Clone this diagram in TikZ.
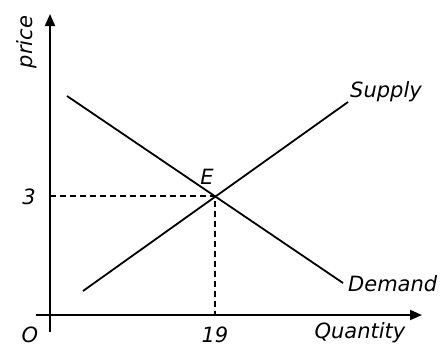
\documentclass[tikz,border=0pt]{standalone}
\usepackage{fontspec}
\setmainfont{DejaVu Sans}
\usetikzlibrary{arrows.meta}
\begin{document}
\begin{tikzpicture}[x=1pt,y=-1pt,
  lbl/.style={font=\fontsize{21}{24}\selectfont\itshape, inner sep=0pt},
  curve/.style={line width=1.8pt},
  axis/.style={line width=1.8pt, -{Triangle[length=12pt,width=10pt]}},
  guide/.style={line width=1.5pt, dash pattern=on 6pt off 4pt}]
\useasboundingbox (0,0) rectangle (443,346);
\coordinate (yb) at (50,332);
\coordinate (yt) at (50,14);
\coordinate (xl) at (36,315);
\coordinate (xr) at (422,315);
\draw[axis] (yb) -- (yt);
\draw[axis] (xl) -- (xr);
\coordinate (s1) at (83,291);
\coordinate (s2) at (348,102);
\coordinate (d1) at (67,96);
\coordinate (d2) at (343,283);
\draw[curve] (s1) -- (s2);
\draw[curve] (d1) -- (d2);
\coordinate (E) at (215,196);
\coordinate (ey) at (50,196);
\coordinate (ex) at (215,315);
\draw[guide] (ey) -- (E) -- (ex);
\node[lbl, rotate=90] (price) at (27,42) {price};
\node[lbl] (three) at (29,197) {3};
\node[lbl, anchor=base] (O) at (30,342) {O};
\node[lbl, anchor=base] (n19) at (215,342) {19};
\node[lbl, anchor=base] (q) at (360,338) {Quantity};
\node[lbl, anchor=west] (sup) at (350,92) {Supply};
\node[lbl, anchor=west] (dem) at (348,284) {Demand};
\node[lbl] (Elab) at (207,177) {E};
\end{tikzpicture}
\end{document}
